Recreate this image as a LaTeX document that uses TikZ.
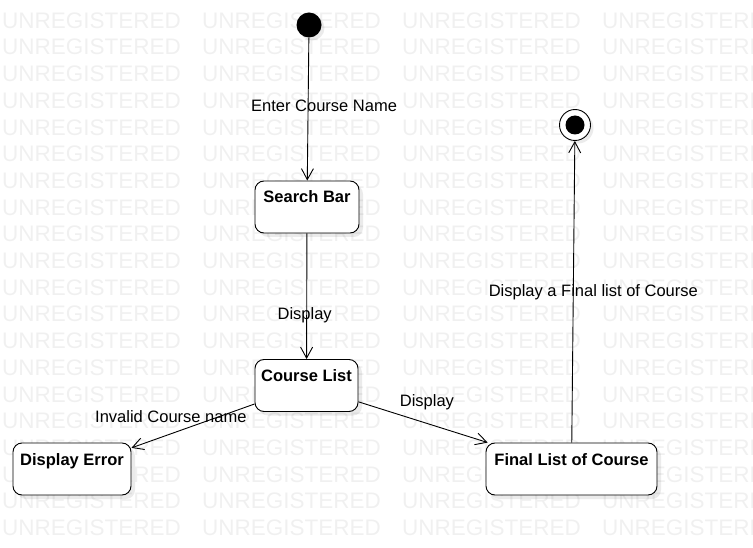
\documentclass[tikz,border=0pt]{standalone}
\usepackage{fontspec}
\setmainfont{Liberation Sans}
\usetikzlibrary{positioning, arrows.meta, shadows}

\begin{document}
\begin{tikzpicture}[
        x=1pt, y=-1pt,
        state/.style={
            draw, rounded corners=9pt, fill=white, line width=0.9pt,
            inner sep=0pt, text height=22pt, text depth=30pt,
            font=\fontsize{16.5}{18}\selectfont\bfseries,
            drop shadow={shadow xshift=4pt, shadow yshift=-4pt, fill=black, opacity=0.08}
        },
        initial/.style={
            circle, fill=black, minimum size=25pt, inner sep=0pt,
            drop shadow={shadow xshift=3pt, shadow yshift=-3pt, fill=black, opacity=0.08}
        },
        final/.style={
            circle, draw, fill=white, line width=0.9pt, minimum size=31pt, inner sep=0pt,
            path picture={\fill[black] (path picture bounding box.center) circle (9.5pt);},
            drop shadow={shadow xshift=3pt, shadow yshift=-3pt, fill=black, opacity=0.08}
        },
        wmark/.style={
            anchor=base west, inner sep=0pt, text=black!6,
            font=\fontsize{22.5}{24}\selectfont
        },
        lbl/.style={font=\fontsize{16.5}{18}\selectfont, inner sep=1pt},
        arr/.style={-{Straight Barb[length=11pt, width=12pt]}, line width=0.9pt}
    ]
    \clip (0,0) rectangle (753,548);

    % watermark
    \foreach \row in {0,...,19}
      \foreach \col in {0,...,3}
        \node[wmark] (wm-\row-\col) at (2+200*\col, 28.3+26.7*\row) {UNREGISTERED};

    \node[initial] (start) at (309,25) {};
    \node[state, minimum width=104pt] (search) at (307,207) {Search Bar};
    \node[state, minimum width=103pt] (clist) at (306.5,385.5) {Course List};
    \node[state, minimum width=118pt] (error) at (72,469) {Display Error};
    \node[state, minimum width=171pt] (flist) at (571.5,469) {Final List of Course};
    \node[final] (end) at (575,125) {};

    \draw[arr] (start) -- (search)
      node[lbl, pos=0.48, xshift=16pt] {Enter Course Name};
    \draw[arr] (search) -- (clist)
      node[lbl, pos=0.65, xshift=-2pt] {Display};
    \draw[arr] (clist) -- (error)
      node[lbl, pos=0.68, yshift=17pt] {Invalid Course name};
    \draw[arr] (clist) -- (flist)
      node[lbl, pos=0.53, yshift=21pt] {Display};
    \draw[arr] (flist) -- (end)
      node[lbl, pos=0.5, xshift=20pt] {Display a Final list of Course};
\end{tikzpicture}
\end{document}
